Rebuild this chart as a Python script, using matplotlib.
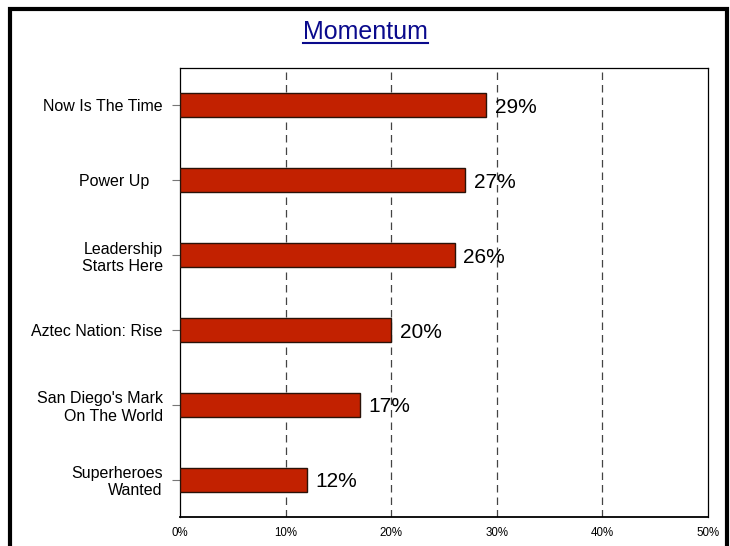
import matplotlib
matplotlib.use("Agg")
import matplotlib.pyplot as plt
from matplotlib.patches import Rectangle
from matplotlib.lines import Line2D

plt.rcParams['font.family'] = ['Liberation Sans', 'DejaVu Sans']

# data, top to bottom as in the chart
labels = ["Now Is The Time", "Power Up   ", "Leadership\nStarts Here",
          "Aztec Nation: Rise", "San Diego's Mark\nOn The World", "Superheroes\nWanted"]
values = [29, 27, 26, 20, 17, 12]
xticks = [0, 10, 20, 30, 40, 50]
xticklabels = ["0%", "10%", "20%", "30%", "40%", "50%"]

W, H = 730, 546
fig = plt.figure(figsize=(W / 100, H / 100), dpi=100)
ax = fig.add_axes([180 / W, 1 - 517 / H, 528 / W, 449 / H])

ypos = list(range(len(values)))[::-1]
ax.barh(ypos, values, height=0.32, color='#c22100', edgecolor='#2a1208', linewidth=1, zorder=3)
for y, v in zip(ypos, values):
    ax.text(v + 0.8, y - 0.03, f"{v}%", va='center', ha='left', fontsize=15, zorder=4)

ax.set_xlim(0, 50)
ax.set_ylim(-0.5, len(values) - 0.5)
ax.set_yticks(ypos)
ax.set_yticklabels(labels, fontsize=11.5)
ax.set_xticks(xticks)
ax.set_xticklabels(xticklabels, fontsize=8.3)
ax.tick_params(axis='x', length=0, pad=7)
ax.tick_params(axis='y', length=6, color='#777777', pad=6.5)

for x in xticks[1:-1]:
    ax.axvline(x, color='#444444', linestyle=(0, (6, 4)), linewidth=0.9, zorder=1)

for s in ax.spines.values():
    s.set_linewidth(0.9)
ax.spines['bottom'].set_linewidth(1.3)

# title, underlined
t = fig.text(365.5 / W, 1 - 32 / H, "Momentum", ha='center', va='center',
             fontsize=18, color='#0a0a8c')
fig.canvas.draw()
bb = t.get_window_extent(renderer=fig.canvas.get_renderer())
fig.lines.append(Line2D([bb.x0 / W, bb.x1 / W], [1 - 43.5 / H, 1 - 43.5 / H],
                        transform=fig.transFigure, color='#0a0a8c', linewidth=1.5))

# outer frame (bottom edge cut off)
fig.patches.append(Rectangle((10 / W, -0.1), 717 / W, 1.1 - 8.5 / H, transform=fig.transFigure,
                             fill=False, edgecolor='black', linewidth=3))

fig.savefig("out.png", dpi=100)
